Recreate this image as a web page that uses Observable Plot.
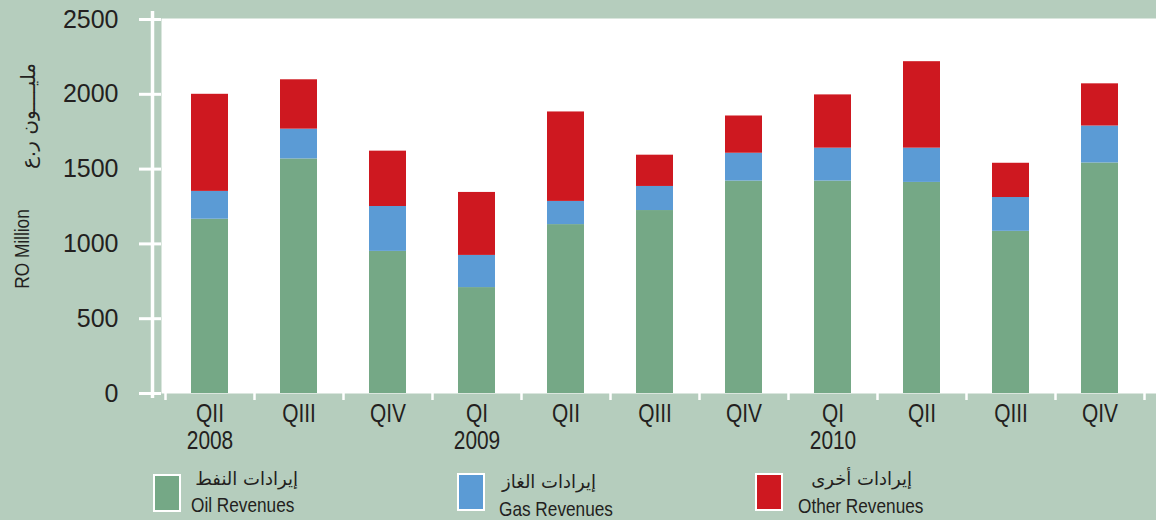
<!DOCTYPE html>
<html>
<head>
<meta charset="utf-8">
<script src="https://cdn.jsdelivr.net/npm/d3@7"></script>
<script src="https://cdn.jsdelivr.net/npm/@observablehq/plot@0.6"></script>
<style>
  html, body { margin: 0; padding: 0; background: #b5cdbd; }
  #wrap { position: relative; width: 1156px; height: 520px; overflow: hidden; background: #b5cdbd; color: #231f20; }
  #chart svg { display: block; }
  .lbl { position: absolute; white-space: nowrap; line-height: 1; color: #231f20; }
  .narrow { font-family: "Liberation Sans", Arial, sans-serif; transform: scaleX(0.82); transform-origin: left center; }
  .ar { font-family: "DejaVu Sans", "Noto Sans", sans-serif; direction: rtl; }
  .rot { transform: translate(-50%, -50%) rotate(-90deg); transform-origin: center; }
  .rotn { font-family: "Liberation Sans", Arial, sans-serif; transform: translate(-50%, -50%) rotate(-90deg) scaleX(0.82); transform-origin: center; }
  .sw { position: absolute; box-sizing: border-box; width: 28px; height: 38px; border: 2px solid #ffffff; }
</style>
</head>
<body>
<div id="wrap">
  <div id="chart"></div>
  <div class="lbl rotn" id="ylab-en" style="left:21px; top:249px; font-size:21px;"></div>
  <div class="lbl ar rot" id="ylab-ar" style="left:28px; top:116px; font-size:20px;"></div>
  <div id="legend"></div>
</div>
<script>
// ---- data ----
const quarters = ["QII 2008","QIII 2008","QIV 2008","QI 2009","QII 2009","QIII 2009","QIV 2009","QI 2010","QII 2010","QIII 2010","QIV 2010"];
const tickLabels = ["QII\n2008","QIII","QIV","QI\n2009","QII","QIII","QIV","QI\n2010","QII","QIII","QIV"];
const oil   = [1165, 1568, 950, 708, 1129, 1223, 1420, 1420, 1411, 1084, 1541];
const gas   = [186, 199, 300, 215, 155, 161, 186, 220, 229, 226, 247];
const other = [649, 330, 370, 421, 598, 209, 249, 356, 578, 229, 282];
const seriesNames = ["Oil Revenues", "Gas Revenues", "Other Revenues"];
const seriesArabic = ["إيرادات النفط", "إيرادات الغاز", "إيرادات أخرى"];
const seriesColors = ["#75a886", "#5b9bd5", "#ce1820"];
const yTicks = [0, 500, 1000, 1500, 2000, 2500];
const yLabelEn = "RO Million";
const yLabelAr = "مليــــون ر.ع";

// ---- table ----
const values = [oil, gas, other];
const rows = [];
quarters.forEach((q, i) => {
  seriesNames.forEach((s, k) => rows.push({quarter: q, series: s, value: values[k][i]}));
});

// ---- layout ----
const W = 1156, H = 462;
const mLeft = 161, insL = 4, insR = 12;
const step = (W - mLeft - insL - insR) / quarters.length;

const chart = Plot.plot({
  width: W,
  height: H,
  marginLeft: mLeft,
  marginRight: 0,
  marginTop: 18,
  marginBottom: 69,
  style: {background: "transparent", color: "#231f20", overflow: "visible"},
  x: {domain: quarters, paddingInner: 0.58, paddingOuter: 0.29, insetLeft: insL, insetRight: insR, label: null},
  y: {domain: [0, 2500], insetTop: 1, label: null},
  color: {domain: seriesNames, range: seriesColors},
  marks: [
    Plot.frame({fill: "white", stroke: null}),
    Plot.barY(rows, {x: "quarter", y: "value", fill: "series"}),
    Plot.ruleX([quarters[0]], {x: d => d, dx: -(step / 2) - 13, stroke: "white", strokeWidth: 3.5, insetTop: -7, insetBottom: -5}),
    Plot.axisY({ticks: yTicks, tickSize: 22, tickPadding: 21, stroke: "white", strokeWidth: 3,
      fontSize: 25, fontFamily: "Liberation Sans, Arial, sans-serif", tickFormat: d => String(d), label: null}),
    Plot.axisX({tickSize: 7, tickPadding: 0, stroke: "white", strokeWidth: 2.5, dx: -step / 2, tickFormat: () => "", label: null}),
    Plot.axisX({ticks: [quarters[quarters.length - 1]], tickSize: 7, tickPadding: 0, stroke: "white", strokeWidth: 2.5, dx: step / 2, tickFormat: () => "", label: null}),
    Plot.axisX({tickSize: 0, tickPadding: 10, tickFormat: d => tickLabels[quarters.indexOf(d)], fontSize: 25.5, lineHeight: 1.04,
      fontFamily: "Liberation Sans, Arial, sans-serif", label: null})
  ]
});
document.getElementById("chart").appendChild(chart);

// condense the quarter labels horizontally (narrow type, as in the reference)
const labelSet = new Set(tickLabels.flatMap(t => t.split("\n")));
d3.select(chart).selectAll("text").each(function () {
  const txt = this.textContent;
  const parts = Array.from(this.querySelectorAll("tspan")).map(t => t.textContent);
  const pieces = parts.length ? parts : [txt];
  if (!pieces.every(p => labelSet.has(p))) return;
  const bb = this.getBBox();
  const cx = bb.x + bb.width / 2;
  const t = this.getAttribute("transform") || "";
  this.setAttribute("transform", `${t} translate(${cx},0) scale(0.82,1) translate(${-cx},0)`);
});

document.getElementById("ylab-en").textContent = yLabelEn;
document.getElementById("ylab-ar").textContent = yLabelAr;

// ---- legend (HTML, below the svg) ----
const legendPos = [
  {sw: [153, 474], ar: [298, 470], en: [191, 494]},
  {sw: [457, 473], ar: [596, 473], en: [499, 498]},
  {sw: [755, 473], ar: [912, 470], en: [798, 495]}
];
const legend = document.getElementById("legend");
seriesNames.forEach((s, k) => {
  const p = legendPos[k];
  const sw = document.createElement("div");
  sw.className = "sw";
  sw.style.left = p.sw[0] + "px"; sw.style.top = p.sw[1] + "px";
  sw.style.background = seriesColors[k];
  legend.appendChild(sw);
  const ar = document.createElement("div");
  ar.className = "lbl ar";
  ar.style.right = (W - p.ar[0]) + "px"; ar.style.top = p.ar[1] + "px";
  ar.style.fontSize = "18px";
  ar.textContent = seriesArabic[k];
  legend.appendChild(ar);
  const en = document.createElement("div");
  en.className = "lbl narrow";
  en.style.left = p.en[0] + "px"; en.style.top = p.en[1] + "px";
  en.style.fontSize = "21px";
  en.textContent = s;
  legend.appendChild(en);
});
</script>
</body>
</html>
